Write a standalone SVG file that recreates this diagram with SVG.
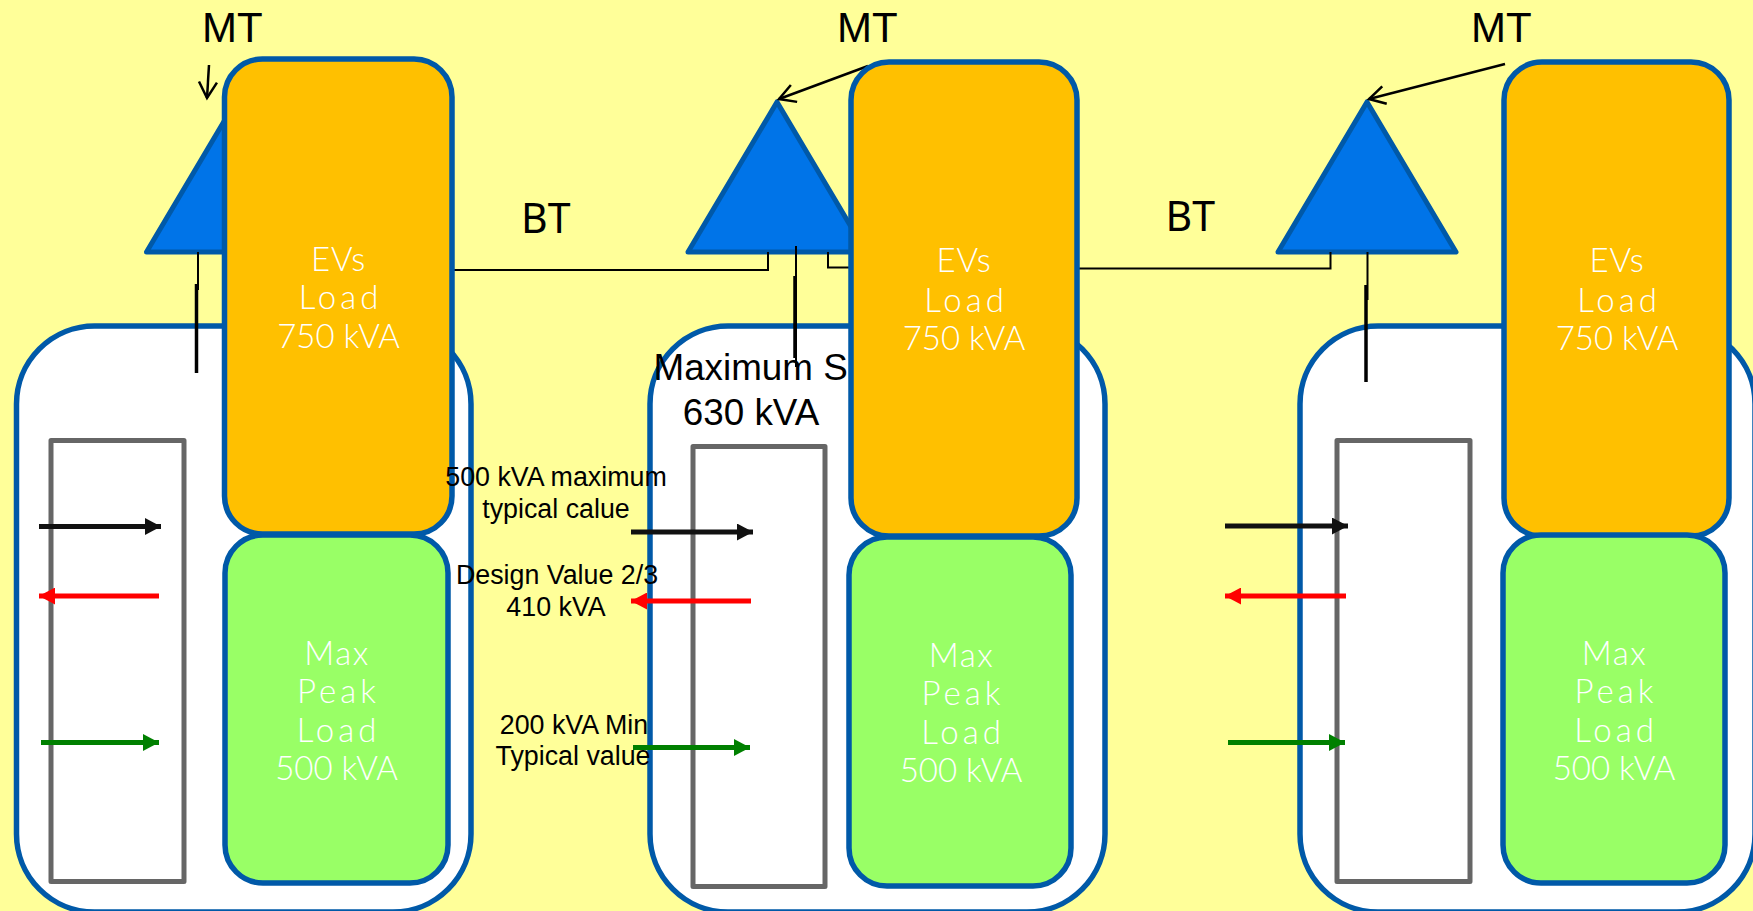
<svg xmlns="http://www.w3.org/2000/svg" width="1753" height="911" viewBox="0 0 1753 911">
<style>
.panel{fill:#fff;stroke:#0059a8;stroke-width:5.500}
.gray{fill:#fff;stroke:#666;stroke-width:5;stroke-linejoin:round}
.tri{fill:#0074e8;stroke:#0059a8;stroke-width:5;stroke-linejoin:round}
.ev{fill:#ffc000;stroke:#0059a8;stroke-width:5.500}
.peak{fill:#99ff66;stroke:#0059a8;stroke-width:5.500}
.load{font-family:"Lato","Open Sans",sans-serif;font-weight:300;font-size:33px;fill:#fff;text-anchor:middle}
.s1{letter-spacing:.7px}
.s2{letter-spacing:1.500px}
.s3{letter-spacing:4px}
.mt{font-family:"Liberation Sans",Arial,sans-serif;font-size:42px;fill:#000}
.big{font-family:"Noto Sans","Open Sans",sans-serif;font-size:41px;fill:#000}
.lab{font-family:"Liberation Sans",Arial,sans-serif;font-size:26.800px;fill:#000;text-anchor:middle}
.max{font-family:"Liberation Sans",Arial,sans-serif;font-size:36.800px;fill:#000}
.w{fill:none;stroke:#000;stroke-width:2}
.t{fill:none;stroke:#000;stroke-width:3.500}
.o{fill:none;stroke:#000;stroke-width:2.500;marker-end:url(#open)}
.k{stroke:#111;stroke-width:5;marker-end:url(#hk)}
.r{stroke:#f00;stroke-width:5;marker-end:url(#hr)}
.g{stroke:#008000;stroke-width:5;marker-end:url(#hg)}
</style>
<defs>
<marker id="open" markerUnits="userSpaceOnUse" markerWidth="24" markerHeight="24" refX="20" refY="12" orient="auto"><path d="M4 3L20 12L4 21" fill="none" stroke="#000" stroke-width="2.500"/></marker>
<marker id="hk" markerUnits="userSpaceOnUse" markerWidth="17" markerHeight="17" refX="16" refY="8.500" orient="auto"><path d="M0 0L16 8.500L0 17Z" fill="#111"/></marker>
<marker id="hr" markerUnits="userSpaceOnUse" markerWidth="17" markerHeight="17" refX="16" refY="8.500" orient="auto"><path d="M0 0L16 8.500L0 17Z" fill="#f00"/></marker>
<marker id="hg" markerUnits="userSpaceOnUse" markerWidth="17" markerHeight="17" refX="16" refY="8.500" orient="auto"><path d="M0 0L16 8.500L0 17Z" fill="#008000"/></marker>
</defs>
<rect width="1753" height="911" fill="#ffff99"/>
<g id="panel-left"><rect class="panel" x="16.500" y="326" width="454.500" height="586" rx="78"/><rect class="gray" x="51" y="440.500" width="133" height="441"/></g>
<g id="panel-center"><rect class="panel" x="650" y="326" width="455" height="586" rx="78"/><text class="max" x="653.500" y="380">Maximum S</text><text class="max" x="751" y="425" text-anchor="middle">630 kVA</text><rect class="gray" x="693" y="446.500" width="132" height="440"/></g>
<g id="panel-right"><rect class="panel" x="1300" y="326" width="455" height="586" rx="78"/><rect class="gray" x="1337" y="440.500" width="133" height="441"/></g>
<g id="transformer-left"><path class="tri" d="M235.500 102L324.500 252H146.500Z"/></g>
<g id="transformer-center"><path class="tri" d="M777 102L866 252H688Z"/></g>
<g id="transformer-right"><path class="tri" d="M1367 102L1456 252H1278Z"/></g>
<g id="connectors">
<path class="w" d="M454 270H768V252"/>
<path class="w" d="M828 252V267.500H851"/>
<path class="w" d="M1077 268.500H1330.500V252"/>
<path class="w" d="M198 252V290"/>
<path class="t" d="M196.500 284V373"/>
<path class="w" d="M796 246V367"/>
<path class="t" d="M795 276V358"/>
<path class="w" d="M1367.500 252V300"/>
<path class="t" d="M1366 285V382"/>
<path class="o" d="M209 65L207 98"/>
<path class="o" d="M868 66L779 99"/>
<path class="o" d="M1505 64L1369 99"/>
<path class="k" d="M39 526.500H161"/><path class="r" d="M159 596H39"/><path class="g" d="M41 742.500H159"/>
<path class="k" d="M631 532H753"/><path class="r" d="M751 601H631"/><path class="g" d="M633 747.500H750"/>
<path class="k" d="M1225 526H1348"/><path class="r" d="M1346 596H1225"/><path class="g" d="M1228 742.500H1345"/>
</g>
<g id="ev-left"><rect class="ev" x="224.500" y="59" width="227.500" height="475" rx="38"/><text class="load"><tspan class="s1" x="338.500" y="271">EVs</tspan><tspan class="s3" x="340.500" y="309">Load</tspan><tspan x="338.500" y="348">750 kVA</tspan></text></g>
<g id="peak-left"><rect class="peak" x="225" y="535" width="223" height="348" rx="38"/><text class="load"><tspan class="s2" x="337" y="665">Max</tspan><tspan class="s3" x="338.500" y="703">Peak</tspan><tspan class="s3" x="338.500" y="742">Load</tspan><tspan x="336.500" y="780">500 kVA</tspan></text></g>
<g id="ev-center"><rect class="ev" x="851" y="62" width="226" height="474" rx="38"/><text class="load"><tspan class="s1" x="964" y="272">EVs</tspan><tspan class="s3" x="966" y="312">Load</tspan><tspan x="964" y="350">750 kVA</tspan></text></g>
<g id="peak-center"><rect class="peak" x="849" y="537" width="222" height="349" rx="38"/><text class="load"><tspan class="s2" x="961.500" y="667">Max</tspan><tspan class="s3" x="963" y="705">Peak</tspan><tspan class="s3" x="963" y="744">Load</tspan><tspan x="961" y="782">500 kVA</tspan></text></g>
<g id="ev-right"><rect class="ev" x="1504" y="62" width="225" height="474" rx="38"/><text class="load"><tspan class="s1" x="1617" y="272">EVs</tspan><tspan class="s3" x="1619" y="312">Load</tspan><tspan x="1617" y="350">750 kVA</tspan></text></g>
<g id="peak-right"><rect class="peak" x="1503" y="535" width="222" height="348" rx="38"/><text class="load"><tspan class="s2" x="1614.500" y="665">Max</tspan><tspan class="s3" x="1616" y="703">Peak</tspan><tspan class="s3" x="1616" y="742">Load</tspan><tspan x="1614" y="780">500 kVA</tspan></text></g>
<g id="labels">
<text class="mt" x="202" y="42">MT</text><text class="mt" x="837" y="42">MT</text><text class="mt" x="1471" y="42">MT</text>
<text class="big" x="521" y="233">BT</text><text class="big" x="1165.500" y="231">BT</text>
<text class="lab"><tspan x="556" y="485.500">500 kVA maximum</tspan><tspan x="556" y="517.500">typical calue</tspan></text>
<text class="lab"><tspan x="557" y="584">Design Value 2/3</tspan><tspan x="556" y="616">410 kVA</tspan></text>
<text class="lab"><tspan x="574" y="734">200 kVA Min</tspan><tspan x="573" y="765">Typical value</tspan></text>
</g>
</svg>
